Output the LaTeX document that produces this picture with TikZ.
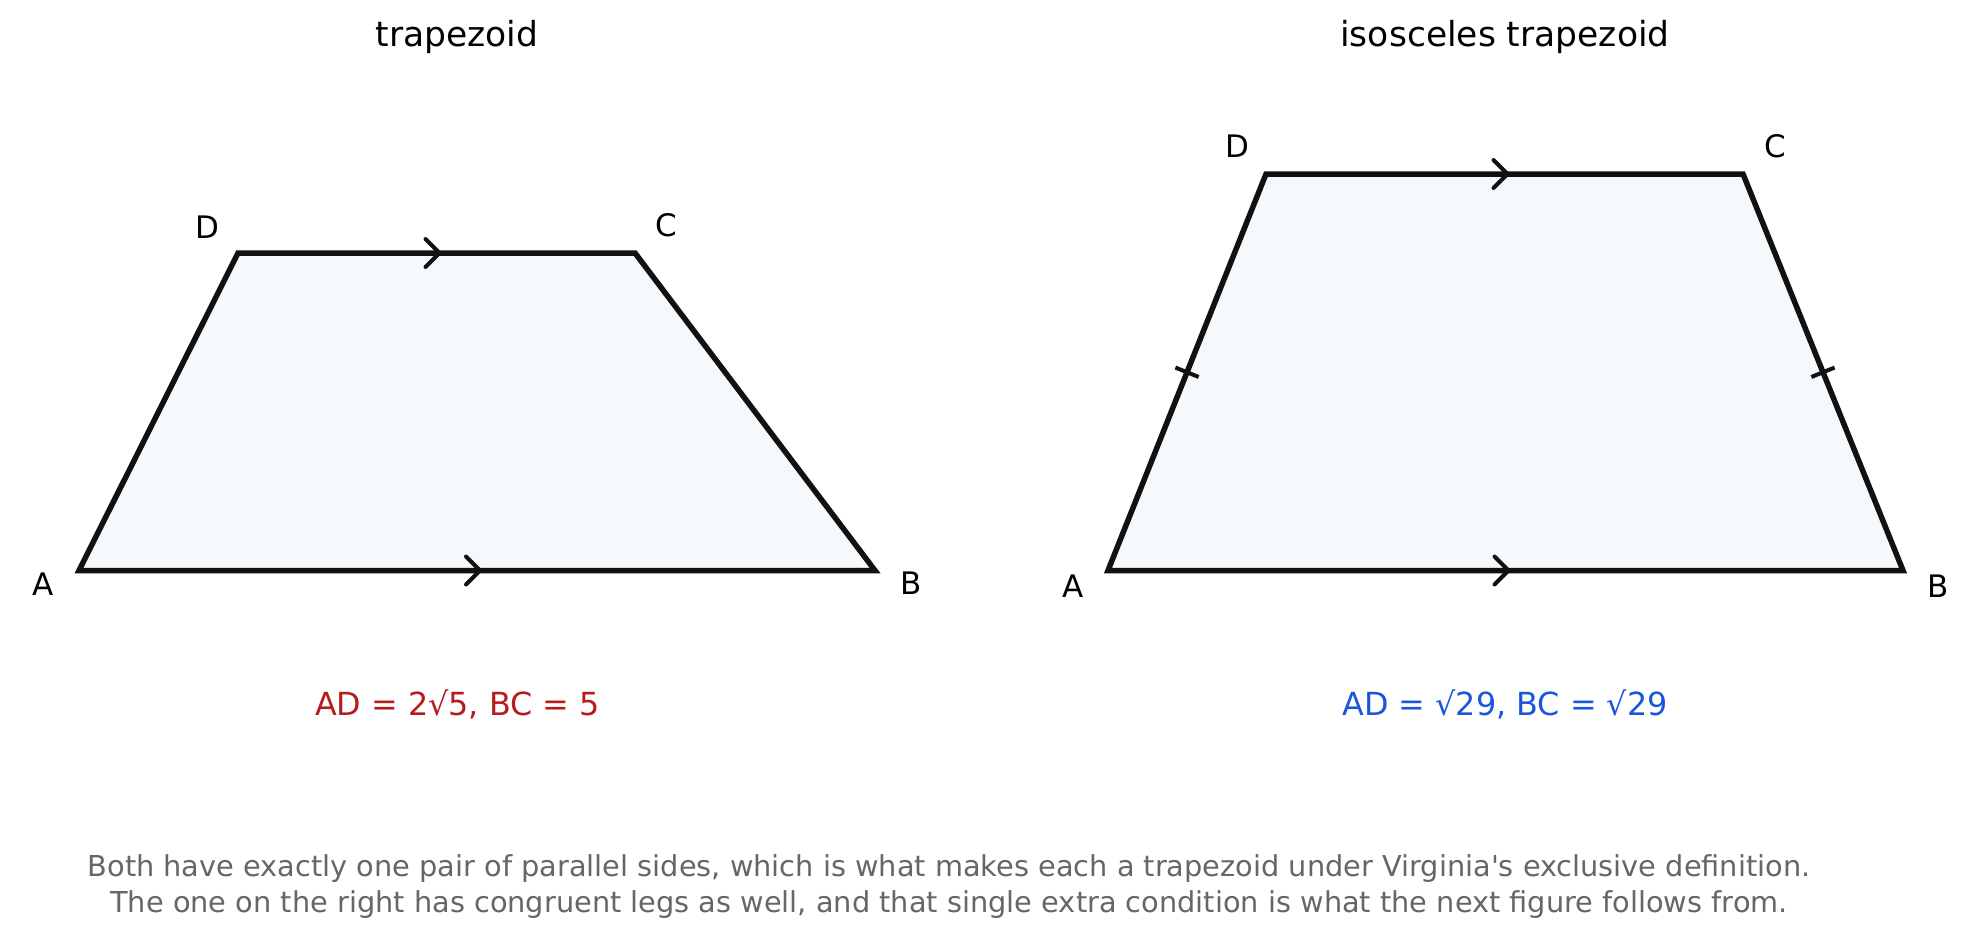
\documentclass[tikz,border=0pt]{standalone}
\usepackage{fontspec}
\setmainfont{DejaVu Sans}
\usetikzlibrary{calc}
\definecolor{edge}{HTML}{111111}
\definecolor{shapefill}{HTML}{F5F9FC}
\definecolor{capred}{HTML}{B71C1C}
\definecolor{capblue}{HTML}{1A56DB}
\definecolor{foot}{HTML}{666666}
\tikzset{
  quad/.style={draw=edge, fill=shapefill, line width=5.5pt, line join=miter},
  chev/.style={draw=edge, line width=4pt, line cap=round, line join=miter},
  tickmark/.style={draw=edge, line width=4pt},
  vlabel/.style={anchor=base, inner sep=0pt, font=\fontsize{31}{37}\selectfont, text=black},
  titletext/.style={anchor=base, inner sep=0pt, font=\fontsize{34.5}{41}\selectfont, text=black},
  captext/.style={anchor=base, inner sep=0pt, font=\fontsize{31.8}{38}\selectfont},
  foottext/.style={anchor=base, inner sep=0pt, font=\fontsize{28.8}{34}\selectfont, text=foot},
}
\begin{document}
\begin{tikzpicture}[x=1pt,y=-1pt]
\useasboundingbox (0,0) rectangle (1968,942);
% left trapezoid
\coordinate (lA) at (79,570.5);
\coordinate (lB) at (875,570.5);
\coordinate (lC) at (635,253);
\coordinate (lD) at (238,253);
\path[quad] (lA) -- (lB) -- (lC) -- (lD) -- cycle;
\coordinate (lmt) at ($(lD)!0.5!(lC)$);
\coordinate (lmb) at ($(lA)!0.5!(lB)$);
\draw[chev] ($(lmt)+(-11,-14)$) -- ($(lmt)+(3,0)$) -- ($(lmt)+(-11,14)$);
\draw[chev] ($(lmb)+(-11,-14)$) -- ($(lmb)+(3,0)$) -- ($(lmb)+(-11,14)$);
% right trapezoid
\coordinate (rA) at (1108,570.5);
\coordinate (rB) at (1903,570.5);
\coordinate (rC) at (1743,174);
\coordinate (rD) at (1266,174);
\path[quad] (rA) -- (rB) -- (rC) -- (rD) -- cycle;
\coordinate (rmt) at ($(rD)!0.5!(rC)$);
\coordinate (rmb) at ($(rA)!0.5!(rB)$);
\draw[chev] ($(rmt)+(-11,-14)$) -- ($(rmt)+(3,0)$) -- ($(rmt)+(-11,14)$);
\draw[chev] ($(rmb)+(-11,-14)$) -- ($(rmb)+(3,0)$) -- ($(rmb)+(-11,14)$);
\coordinate (rml) at ($(rA)!0.5!(rD)$);
\coordinate (rmr) at ($(rB)!0.5!(rC)$);
\draw[tickmark] ($(rml)+(-11.6,-4.7)$) -- ($(rml)+(11.6,4.7)$);
\draw[tickmark] ($(rmr)+(-11.6,4.7)$) -- ($(rmr)+(11.6,-4.7)$);
% vertex labels
\node[vlabel] (lAl) at (43,595) {A};
\node[vlabel] (lBl) at (911,594) {B};
\node[vlabel] (lCl) at (666.5,236) {C};
\node[vlabel] (lDl) at (207,238) {D};
\node[vlabel] (rAl) at (1073,597) {A};
\node[vlabel] (rBl) at (1938,597) {B};
\node[vlabel] (rCl) at (1775,157) {C};
\node[vlabel] (rDl) at (1237,157) {D};
% titles
\node[titletext] (t1) at (457,47) {trapezoid};
\node[titletext] (t2) at (1505,47) {isosceles trapezoid};
% captions
\node[captext, text=capred] (c1) at (457.5,715) {AD = 2√5, BC = 5};
\node[captext, text=capblue] (c2) at (1505,715) {AD = √29, BC = √29};
% footer
\node[foottext] (f1) at (949,876) {Both have exactly one pair of parallel sides, which is what makes each a trapezoid under Virginia\textquotesingle s exclusive definition.};
\node[foottext] (f2) at (949,912) {The one on the right has congruent legs as well, and that single extra condition is what the next figure follows from.};
\end{tikzpicture}
\end{document}
